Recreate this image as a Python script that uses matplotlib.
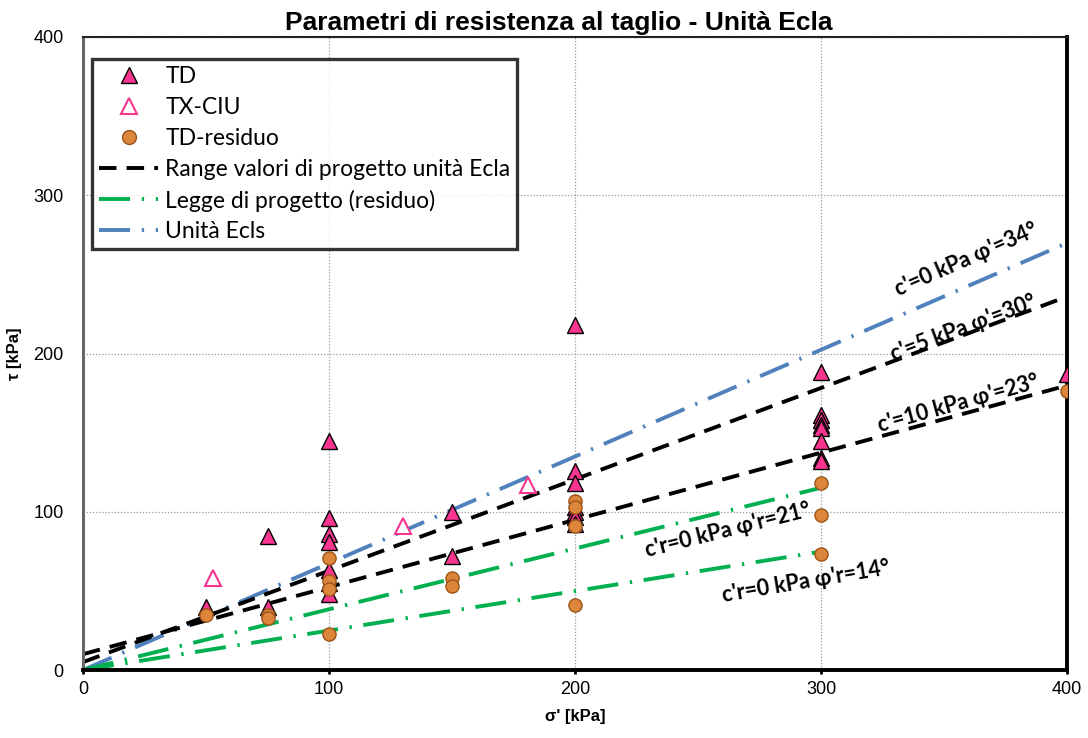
import numpy as np
import matplotlib.pyplot as plt
from matplotlib.lines import Line2D

# prove TD (picco)
td_s = [50, 75, 75, 100, 100, 100, 100, 100, 100, 100, 150, 150,
        200, 200, 200, 200, 200, 200, 200,
        300, 300, 300, 300, 300, 300, 300, 300, 400]
td_t = [40, 40, 85, 145, 96, 86, 81, 63, 55, 48, 100, 72,
        218, 126, 118, 103, 100, 97, 92,
        188, 161, 158, 155, 153, 145, 134, 132, 187]

# prove triassiali TX-CIU
tx_s = [53, 130, 181]
tx_t = [58, 91, 117]

# TD residuo
res_s = [50, 75, 75, 100, 100, 100, 100, 150, 150,
         200, 200, 200, 200, 300, 300, 300, 400]
res_t = [35, 35, 33, 71, 56, 51, 23, 58, 53,
         107, 103, 91, 41, 118, 98, 73, 176]

# inviluppi di progetto: (c', phi', sigma max)
ecls = (0, 34, 400)
ecla = [(5, 30, 400), (10, 23, 400)]
residuo = [(0, 21, 300), (0, 14, 300)]

PINK = "#F7358F"
ORANGE = "#DC863B"
GREEN = "#00B050"
BLUE = "#4F81BD"
DASH = (4.5, 2.6)
DASHDOT = (8, 3, 0.6, 3)

plt.rcParams["font.family"] = ["Liberation Sans", "DejaVu Sans"]

fig = plt.figure(figsize=(10.88, 7.38), dpi=100)
ax = fig.add_axes([0.0763, 0.0921, 0.9044, 0.8578])


def envelope(c, phi, smax):
    s = np.array([0.0, smax])
    return s, c + s * np.tan(np.radians(phi))


s, t = envelope(*ecls)
ax.plot(s, t, color=BLUE, lw=2.8, dashes=DASHDOT, zorder=2)
for c, phi, smax in ecla:
    s, t = envelope(c, phi, smax)
    ax.plot(s, t, color="black", lw=2.8, dashes=DASH, zorder=2)
for c, phi, smax in residuo:
    s, t = envelope(c, phi, smax)
    ax.plot(s, t, color=GREEN, lw=2.8, dashes=DASHDOT, zorder=2)

ax.plot(td_s, td_t, ls="none", marker="^", ms=12, mfc=PINK, mec="black",
        mew=1.0, zorder=4)
ax.plot(tx_s, tx_t, ls="none", marker="^", ms=11, mfc="white", mec=PINK,
        mew=1.5, zorder=4)
ax.plot(res_s, res_t, ls="none", marker="o", ms=9.5, mfc=ORANGE,
        mec="#9C5418", mew=1.0, zorder=5)

ax.set_xlim(0, 400)
ax.set_ylim(0, 400)
ax.set_xticks(np.arange(0, 401, 100))
ax.set_yticks(np.arange(0, 401, 100))
ax.tick_params(axis="x", labelsize=13, length=3, width=2, direction="out", pad=5)
ax.tick_params(axis="y", labelsize=13, length=0, pad=14)
ax.grid(True, color="#999999", ls=(0, (1, 1.5)), lw=0.9)
ax.set_axisbelow(True)

for side in ("bottom", "right"):
    ax.spines[side].set_linewidth(2.8)
    ax.spines[side].set_color("black")
ax.spines["top"].set_linewidth(1.5)
ax.spines["top"].set_color("#222222")
ax.spines["left"].set_color("#666666")
ax.spines["left"].set_linewidth(2.2)

ax.set_xlabel("σ' [kPa]", fontsize=12, fontweight="bold", labelpad=8)
ax.set_ylabel("τ [kPa]", fontsize=12, fontweight="bold", labelpad=8)
ax.set_title("Parametri di resistenza al taglio - Unità Ecla", fontsize=19,
             fontweight="bold", pad=5, x=0.483)

# etichette degli inviluppi
lab = dict(fontsize=15.5, fontweight="bold", family=["Lato", "DejaVu Sans"],
           ha="center", va="center", rotation_mode="anchor", zorder=6)
ax.text(359, 259, "c'=0 kPa φ'=34°", rotation=23.5, **lab)
ax.text(358, 216, "c'=5 kPa φ'=30°", rotation=20.5, **lab)
ax.text(356, 168, "c'=10 kPa φ'=23°", rotation=15.5, **lab)
ax.text(262, 88, "c'r=0 kPa φ'r=21°", rotation=14, **lab)
ax.text(294, 56, "c'r=0 kPa φ'r=14°", rotation=9.5, **lab)

handles = [
    Line2D([], [], ls="none", marker="^", ms=11, mfc=PINK, mec="black"),
    Line2D([], [], ls="none", marker="^", ms=11, mfc="white", mec=PINK, mew=1.5),
    Line2D([], [], ls="none", marker="o", ms=10, mfc=ORANGE, mec="#9C5418"),
    Line2D([], [], color="black", lw=2.8, dashes=DASH),
    Line2D([], [], color=GREEN, lw=2.8, dashes=DASHDOT),
    Line2D([], [], color=BLUE, lw=2.8, dashes=DASHDOT),
]
labels = ["TD", "TX-CIU", "TD-residuo", "Range valori di progetto unità Ecla",
          "Legge di progetto (residuo)", "Unità Ecls"]
leg = ax.legend(handles, labels, loc="upper left", bbox_to_anchor=(0.009, 0.965),
                prop={"family": ["Lato", "DejaVu Sans"], "size": 16.5},
                frameon=True, fancybox=False, edgecolor="black",
                handlelength=2.6, handletextpad=0.3, labelspacing=0.43,
                borderpad=0.3, borderaxespad=0)
leg.get_frame().set_linewidth(2.4)

fig.savefig("out.png", dpi=100)
